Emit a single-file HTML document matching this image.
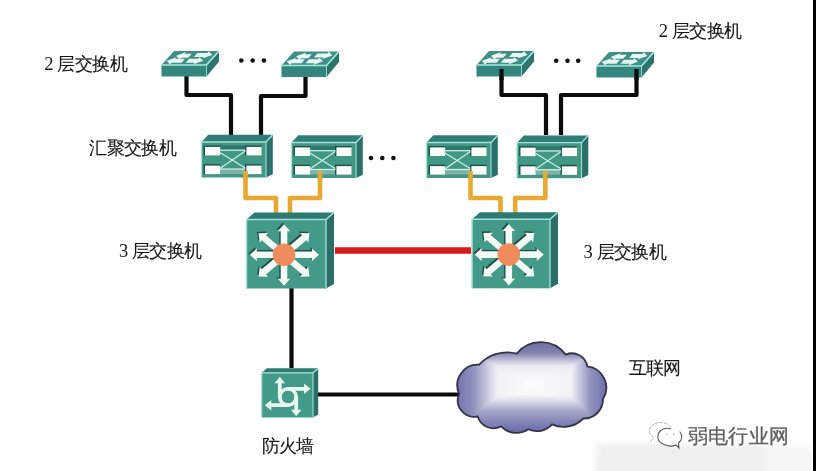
<!DOCTYPE html>
<html><head><meta charset="utf-8">
<style>
html,body{margin:0;padding:0;background:#fff;}
body{width:816px;height:471px;position:relative;overflow:hidden;font-family:"Liberation Sans",sans-serif;}
svg{position:absolute;left:0;top:0;}
.lb{position:absolute;color:#161616;line-height:1;white-space:pre;-webkit-text-stroke:0.1px #161616;}
.c{display:inline-block;text-align:center;overflow:visible;}
.d{font-family:"Liberation Serif",serif;font-size:18.5px;-webkit-text-stroke:0;}
.wm{position:absolute;left:688px;top:426.5px;font-size:19.5px;line-height:1;color:#606060;white-space:pre;-webkit-text-stroke:0.25px #606060;text-shadow:1px 1px 0 #fff,-0.5px -0.5px 0 #ddd;}
</style></head><body>
<svg width="816" height="471" viewBox="0 0 816 471"><defs>
<linearGradient id="ch" gradientUnits="userSpaceOnUse" x1="455" y1="0" x2="606" y2="0">
<stop offset="0" stop-color="#6e71ab"/><stop offset="0.12" stop-color="#8e90bc"/><stop offset="0.28" stop-color="#f1f1f6"/><stop offset="0.5" stop-color="#fbfbfd"/><stop offset="0.77" stop-color="#f1f1f6"/><stop offset="0.9" stop-color="#8e90bc"/><stop offset="1" stop-color="#6e71ab"/>
</linearGradient>
<linearGradient id="cv" gradientUnits="userSpaceOnUse" x1="0" y1="341" x2="0" y2="431">
<stop offset="0" stop-color="#6e6f9f"/><stop offset="0.13" stop-color="#7f81ae"/><stop offset="0.27" stop-color="#e9e9f1"/><stop offset="0.45" stop-color="#fdfdfe"/><stop offset="0.6" stop-color="#f8f8fb"/><stop offset="0.78" stop-color="#a4a5c9"/><stop offset="1" stop-color="#6a6caa"/>
</linearGradient>
<filter id="blur2" x="-10%" y="-50%" width="120%" height="200%"><feGaussianBlur stdDeviation="3"/></filter>
</defs><g filter="url(#blur2)"><rect x="596" y="444" width="168" height="40" fill="#efefef"/><rect x="764" y="446" width="49" height="40" fill="#f5f5f5"/></g><g fill="none" stroke="#0b0b0b" stroke-width="4.2" stroke-linejoin="round"><polyline points="186.5,76 186.5,95 231,95 231,135"/><polyline points="305.5,77 305.5,96 261,96 261,135"/><polyline points="501.5,69 501.5,95 546,95 546,135"/><polyline points="636.5,69 636.5,95 561,95 561,135"/><line x1="291.5" y1="288" x2="291.5" y2="368"/><line x1="318" y1="394.5" x2="460" y2="394.5"/></g><g fill="none" stroke="#e8a933" stroke-width="4.6" stroke-linejoin="round"><polyline points="245.5,171 245.5,198 276,198 276,213"/><polyline points="320,171 320,198 290,198 290,213"/><polyline points="470.5,171 470.5,198 500.5,198 500.5,213"/><polyline points="545.3,171 545.3,198 515.2,198 515.2,213"/></g><line x1="335" y1="250.5" x2="471" y2="250.5" stroke="#d8191b" stroke-width="6.5"/><polygon points="161.5,65 174.0,51 219.0,51 206.5,65" fill="#3f8f87"/>
<polygon points="206.5,65 219.0,51 219.0,61.5 206.5,76.5" fill="#2d746d"/>
<rect x="161.5" y="65" width="45" height="11.5" fill="#34877f"/>
<rect x="161.5" y="68" width="45" height="1" fill="#2e7a73" opacity="0.35"/>
<rect x="161.5" y="72" width="45" height="1" fill="#2e7a73" opacity="0.35"/>
<polyline points="161.5,65 206.5,65 219.0,51" fill="none" stroke="#a8e8de" stroke-width="1.7"/>
<line x1="206.5" y1="65" x2="206.5" y2="76.5" stroke="#8fd6cc" stroke-width="1"/>
<polygon points="188.2,57.7 181.1,57.7 179.6,59.4 176.1,55.8 186.1,52.1 184.6,53.8 191.8,53.8" fill="#e8f6f3"/>
<polygon points="193.9,56.9 203.8,56.9 202.3,58.6 212.3,54.9 208.8,51.3 207.3,53.0 197.4,53.0" fill="#e8f6f3"/>
<polygon points="181.5,62.8 171.6,62.8 170.1,64.4 166.6,60.8 176.6,57.2 175.1,58.8 185.0,58.8" fill="#e8f6f3"/>
<polygon points="185.6,62.8 194.6,62.8 193.1,64.4 203.1,60.8 199.6,57.2 198.1,58.8 189.1,58.8" fill="#e8f6f3"/><polygon points="281.5,65.5 294.0,51.5 339.0,51.5 326.5,65.5" fill="#3f8f87"/>
<polygon points="326.5,65.5 339.0,51.5 339.0,62.0 326.5,77.0" fill="#2d746d"/>
<rect x="281.5" y="65.5" width="45" height="11.5" fill="#34877f"/>
<rect x="281.5" y="68.5" width="45" height="1" fill="#2e7a73" opacity="0.35"/>
<rect x="281.5" y="72.5" width="45" height="1" fill="#2e7a73" opacity="0.35"/>
<polyline points="281.5,65.5 326.5,65.5 339.0,51.5" fill="none" stroke="#a8e8de" stroke-width="1.7"/>
<line x1="326.5" y1="65.5" x2="326.5" y2="77.0" stroke="#8fd6cc" stroke-width="1"/>
<polygon points="308.2,58.2 301.1,58.2 299.6,59.9 296.1,56.3 306.1,52.6 304.6,54.3 311.8,54.3" fill="#e8f6f3"/>
<polygon points="313.9,57.4 323.9,57.4 322.4,59.1 332.4,55.4 328.9,51.8 327.4,53.5 317.4,53.5" fill="#e8f6f3"/>
<polygon points="301.5,63.3 291.6,63.3 290.1,64.9 286.6,61.3 296.6,57.7 295.1,59.3 305.0,59.3" fill="#e8f6f3"/>
<polygon points="305.6,63.3 314.6,63.3 313.1,64.9 323.1,61.3 319.6,57.7 318.1,59.3 309.1,59.3" fill="#e8f6f3"/><polygon points="476.5,65 489.0,51 534.0,51 521.5,65" fill="#3f8f87"/>
<polygon points="521.5,65 534.0,51 534.0,61.5 521.5,76.5" fill="#2d746d"/>
<rect x="476.5" y="65" width="45" height="11.5" fill="#34877f"/>
<rect x="476.5" y="68" width="45" height="1" fill="#2e7a73" opacity="0.35"/>
<rect x="476.5" y="72" width="45" height="1" fill="#2e7a73" opacity="0.35"/>
<polyline points="476.5,65 521.5,65 534.0,51" fill="none" stroke="#a8e8de" stroke-width="1.7"/>
<line x1="521.5" y1="65" x2="521.5" y2="76.5" stroke="#8fd6cc" stroke-width="1"/>
<polygon points="503.2,57.7 496.1,57.7 494.6,59.4 491.1,55.8 501.1,52.1 499.6,53.8 506.8,53.8" fill="#e8f6f3"/>
<polygon points="508.9,56.9 518.9,56.9 517.4,58.6 527.4,54.9 523.9,51.3 522.4,53.0 512.5,53.0" fill="#e8f6f3"/>
<polygon points="496.5,62.8 486.6,62.8 485.1,64.4 481.6,60.8 491.6,57.2 490.1,58.8 500.0,58.8" fill="#e8f6f3"/>
<polygon points="500.6,62.8 509.6,62.8 508.1,64.4 518.0,60.8 514.6,57.2 513.0,58.8 504.1,58.8" fill="#e8f6f3"/><polygon points="596.5,66 609.0,52 654.0,52 641.5,66" fill="#3f8f87"/>
<polygon points="641.5,66 654.0,52 654.0,62.5 641.5,77.5" fill="#2d746d"/>
<rect x="596.5" y="66" width="45" height="11.5" fill="#34877f"/>
<rect x="596.5" y="69" width="45" height="1" fill="#2e7a73" opacity="0.35"/>
<rect x="596.5" y="73" width="45" height="1" fill="#2e7a73" opacity="0.35"/>
<polyline points="596.5,66 641.5,66 654.0,52" fill="none" stroke="#a8e8de" stroke-width="1.7"/>
<line x1="641.5" y1="66" x2="641.5" y2="77.5" stroke="#8fd6cc" stroke-width="1"/>
<polygon points="623.2,58.7 616.0,58.7 614.5,60.4 611.0,56.8 621.0,53.1 619.5,54.8 626.8,54.8" fill="#e8f6f3"/>
<polygon points="629.0,57.9 638.9,57.9 637.4,59.6 647.4,55.9 643.9,52.3 642.4,54.0 632.5,54.0" fill="#e8f6f3"/>
<polygon points="616.5,63.8 606.6,63.8 605.1,65.4 601.6,61.8 611.6,58.2 610.1,59.8 620.0,59.8" fill="#e8f6f3"/>
<polygon points="620.5,63.8 629.5,63.8 628.0,65.4 638.0,61.8 634.5,58.2 633.0,59.8 624.0,59.8" fill="#e8f6f3"/><g fill="none" stroke="#0b0b0b" stroke-width="4.2"><line x1="501.5" y1="69" x2="501.5" y2="80"/><line x1="636.5" y1="69" x2="636.5" y2="80"/></g><polygon points="201.5,142 208.3,134.7 272.8,134.7 266.0,142" fill="#2f7d75"/>
<polygon points="266.0,142 272.8,134.7 272.8,174.2 266.0,177.5" fill="#2b6f69"/>
<rect x="201.5" y="142" width="64.5" height="35.5" fill="#409784"/>
<polyline points="201.5,177.5 201.5,142 266.0,142 272.8,134.7" fill="none" stroke="#a5e3d9" stroke-width="1.3"/>
<line x1="266.0" y1="142" x2="266.0" y2="177.5" stroke="#9adbd0" stroke-width="1.2"/>
<rect x="219.9" y="145.6" width="25.4" height="4.6" fill="#2e776f"/>
<rect x="219.9" y="169" width="25.4" height="5" fill="#7fb2ab"/>
<rect x="203.6" y="145.5" width="16.6" height="10" fill="#1f4f4a"/>
<rect x="205.0" y="146.9" width="15.2" height="8.6" fill="#fbfdfd"/>
<rect x="245.0" y="145.5" width="16.6" height="10" fill="#1f4f4a"/>
<rect x="246.4" y="146.9" width="15.2" height="8.6" fill="#fbfdfd"/>
<rect x="203.6" y="164.2" width="16.6" height="10" fill="#1f4f4a"/>
<rect x="205.0" y="165.6" width="15.2" height="8.6" fill="#fbfdfd"/>
<rect x="245.0" y="164.2" width="16.6" height="10" fill="#1f4f4a"/>
<rect x="246.4" y="165.6" width="15.2" height="8.6" fill="#fbfdfd"/>
<g stroke="#c9efe9" stroke-width="1.3"><line x1="219.9" y1="150.2" x2="245.3" y2="150.2"/><line x1="219.9" y1="169" x2="245.3" y2="169"/><line x1="219.9" y1="152.5" x2="245.3" y2="168"/><line x1="245.3" y1="151" x2="219.9" y2="168.5"/></g><polygon points="291.5,142.5 298.3,135.2 362.8,135.2 356.0,142.5" fill="#2f7d75"/>
<polygon points="356.0,142.5 362.8,135.2 362.8,174.7 356.0,178.0" fill="#2b6f69"/>
<rect x="291.5" y="142.5" width="64.5" height="35.5" fill="#409784"/>
<polyline points="291.5,178.0 291.5,142.5 356.0,142.5 362.8,135.2" fill="none" stroke="#a5e3d9" stroke-width="1.3"/>
<line x1="356.0" y1="142.5" x2="356.0" y2="178.0" stroke="#9adbd0" stroke-width="1.2"/>
<rect x="309.9" y="146.1" width="25.4" height="4.6" fill="#2e776f"/>
<rect x="309.9" y="169.5" width="25.4" height="5" fill="#7fb2ab"/>
<rect x="293.59999999999997" y="146.0" width="16.6" height="10" fill="#1f4f4a"/>
<rect x="295.0" y="147.4" width="15.2" height="8.6" fill="#fbfdfd"/>
<rect x="335.0" y="146.0" width="16.6" height="10" fill="#1f4f4a"/>
<rect x="336.40000000000003" y="147.4" width="15.2" height="8.6" fill="#fbfdfd"/>
<rect x="293.59999999999997" y="164.7" width="16.6" height="10" fill="#1f4f4a"/>
<rect x="295.0" y="166.1" width="15.2" height="8.6" fill="#fbfdfd"/>
<rect x="335.0" y="164.7" width="16.6" height="10" fill="#1f4f4a"/>
<rect x="336.40000000000003" y="166.1" width="15.2" height="8.6" fill="#fbfdfd"/>
<g stroke="#c9efe9" stroke-width="1.3"><line x1="309.9" y1="150.7" x2="335.3" y2="150.7"/><line x1="309.9" y1="169.5" x2="335.3" y2="169.5"/><line x1="309.9" y1="153.0" x2="335.3" y2="168.5"/><line x1="335.3" y1="151.5" x2="309.9" y2="169.0"/></g><polygon points="426.5,142.5 433.3,135.2 497.8,135.2 491.0,142.5" fill="#2f7d75"/>
<polygon points="491.0,142.5 497.8,135.2 497.8,174.7 491.0,178.0" fill="#2b6f69"/>
<rect x="426.5" y="142.5" width="64.5" height="35.5" fill="#409784"/>
<polyline points="426.5,178.0 426.5,142.5 491.0,142.5 497.8,135.2" fill="none" stroke="#a5e3d9" stroke-width="1.3"/>
<line x1="491.0" y1="142.5" x2="491.0" y2="178.0" stroke="#9adbd0" stroke-width="1.2"/>
<rect x="444.9" y="146.1" width="25.4" height="4.6" fill="#2e776f"/>
<rect x="444.9" y="169.5" width="25.4" height="5" fill="#7fb2ab"/>
<rect x="428.59999999999997" y="146.0" width="16.6" height="10" fill="#1f4f4a"/>
<rect x="430.0" y="147.4" width="15.2" height="8.6" fill="#fbfdfd"/>
<rect x="470.0" y="146.0" width="16.6" height="10" fill="#1f4f4a"/>
<rect x="471.40000000000003" y="147.4" width="15.2" height="8.6" fill="#fbfdfd"/>
<rect x="428.59999999999997" y="164.7" width="16.6" height="10" fill="#1f4f4a"/>
<rect x="430.0" y="166.1" width="15.2" height="8.6" fill="#fbfdfd"/>
<rect x="470.0" y="164.7" width="16.6" height="10" fill="#1f4f4a"/>
<rect x="471.40000000000003" y="166.1" width="15.2" height="8.6" fill="#fbfdfd"/>
<g stroke="#c9efe9" stroke-width="1.3"><line x1="444.9" y1="150.7" x2="470.3" y2="150.7"/><line x1="444.9" y1="169.5" x2="470.3" y2="169.5"/><line x1="444.9" y1="153.0" x2="470.3" y2="168.5"/><line x1="470.3" y1="151.5" x2="444.9" y2="169.0"/></g><polygon points="517,142.7 523.8,135.39999999999998 588.3,135.39999999999998 581.5,142.7" fill="#2f7d75"/>
<polygon points="581.5,142.7 588.3,135.39999999999998 588.3,174.89999999999998 581.5,178.2" fill="#2b6f69"/>
<rect x="517" y="142.7" width="64.5" height="35.5" fill="#409784"/>
<polyline points="517,178.2 517,142.7 581.5,142.7 588.3,135.39999999999998" fill="none" stroke="#a5e3d9" stroke-width="1.3"/>
<line x1="581.5" y1="142.7" x2="581.5" y2="178.2" stroke="#9adbd0" stroke-width="1.2"/>
<rect x="535.4" y="146.29999999999998" width="25.4" height="4.6" fill="#2e776f"/>
<rect x="535.4" y="169.7" width="25.4" height="5" fill="#7fb2ab"/>
<rect x="519.1" y="146.2" width="16.6" height="10" fill="#1f4f4a"/>
<rect x="520.5" y="147.6" width="15.2" height="8.6" fill="#fbfdfd"/>
<rect x="560.5" y="146.2" width="16.6" height="10" fill="#1f4f4a"/>
<rect x="561.9" y="147.6" width="15.2" height="8.6" fill="#fbfdfd"/>
<rect x="519.1" y="164.89999999999998" width="16.6" height="10" fill="#1f4f4a"/>
<rect x="520.5" y="166.29999999999998" width="15.2" height="8.6" fill="#fbfdfd"/>
<rect x="560.5" y="164.89999999999998" width="16.6" height="10" fill="#1f4f4a"/>
<rect x="561.9" y="166.29999999999998" width="15.2" height="8.6" fill="#fbfdfd"/>
<g stroke="#c9efe9" stroke-width="1.3"><line x1="535.4" y1="150.89999999999998" x2="560.8" y2="150.89999999999998"/><line x1="535.4" y1="169.7" x2="560.8" y2="169.7"/><line x1="535.4" y1="153.2" x2="560.8" y2="168.7"/><line x1="560.8" y1="151.7" x2="535.4" y2="169.2"/></g><g fill="none" stroke="#e8a933" stroke-width="4.6"><line x1="245.5" y1="171" x2="245.5" y2="180"/><line x1="320" y1="171" x2="320" y2="180"/><line x1="470.5" y1="171" x2="470.5" y2="180"/><line x1="545.3" y1="171" x2="545.3" y2="180"/></g><polygon points="246.5,219.5 254.5,212.5 334.0,212.5 326.0,219.5" fill="#2c7a72"/>
<polygon points="326.0,219.5 334.0,212.5 334.0,284.0 326.0,288.5" fill="#2a6e68"/>
<rect x="246.5" y="219.5" width="79.5" height="69" fill="#449a89"/>
<polyline points="246.5,288.5 246.5,219.5 326.0,219.5 334.0,212.5" fill="none" stroke="#a3e2d6" stroke-width="1.5"/>
<line x1="326.0" y1="219.5" x2="326.0" y2="288.5" stroke="#97d9cd" stroke-width="1.5"/>
<g fill="#1f4f49"><polygon points="284.00,251.50 312.00,251.50 312.00,248.50 319.00,254.80 312.00,261.10 312.00,258.10 284.00,258.10" transform="translate(-1.4,-1.4)"/><polygon points="286.13,252.28 306.29,269.36 308.23,267.07 309.50,276.40 300.09,276.68 302.03,274.39 281.87,257.32" transform="translate(-1.4,-1.4)"/><polygon points="287.30,254.80 287.30,278.80 290.30,278.80 284.00,285.80 277.70,278.80 280.70,278.80 280.70,254.80" transform="translate(-1.4,-1.4)"/><polygon points="286.13,257.32 265.97,274.39 267.91,276.68 258.50,276.40 259.77,267.07 261.71,269.36 281.87,252.28" transform="translate(-1.4,-1.4)"/><polygon points="284.00,258.10 256.80,258.10 256.80,261.10 249.80,254.80 256.80,248.50 256.80,251.50 284.00,251.50" transform="translate(-1.4,-1.4)"/><polygon points="281.87,257.32 261.71,240.24 259.77,242.53 258.50,233.20 267.91,232.92 265.97,235.21 286.13,252.28" transform="translate(-1.4,-1.4)"/><polygon points="280.70,254.80 280.70,231.20 277.70,231.20 284.00,224.20 290.30,231.20 287.30,231.20 287.30,254.80" transform="translate(-1.4,-1.4)"/><polygon points="281.87,252.28 302.03,235.21 300.09,232.92 309.50,233.20 308.23,242.53 306.29,240.24 286.13,257.32" transform="translate(-1.4,-1.4)"/></g>
<g fill="#f3faf8"><polygon points="284.00,251.50 312.00,251.50 312.00,248.50 319.00,254.80 312.00,261.10 312.00,258.10 284.00,258.10"/><polygon points="286.13,252.28 306.29,269.36 308.23,267.07 309.50,276.40 300.09,276.68 302.03,274.39 281.87,257.32"/><polygon points="287.30,254.80 287.30,278.80 290.30,278.80 284.00,285.80 277.70,278.80 280.70,278.80 280.70,254.80"/><polygon points="286.13,257.32 265.97,274.39 267.91,276.68 258.50,276.40 259.77,267.07 261.71,269.36 281.87,252.28"/><polygon points="284.00,258.10 256.80,258.10 256.80,261.10 249.80,254.80 256.80,248.50 256.80,251.50 284.00,251.50"/><polygon points="281.87,257.32 261.71,240.24 259.77,242.53 258.50,233.20 267.91,232.92 265.97,235.21 286.13,252.28"/><polygon points="280.70,254.80 280.70,231.20 277.70,231.20 284.00,224.20 290.30,231.20 287.30,231.20 287.30,254.80"/><polygon points="281.87,252.28 302.03,235.21 300.09,232.92 309.50,233.20 308.23,242.53 306.29,240.24 286.13,257.32"/></g>
<circle cx="284.0" cy="254.8" r="11.3" fill="#f08c5c"/><polygon points="472,219.3 480,212.3 558,212.3 550,219.3" fill="#2c7a72"/>
<polygon points="550,219.3 558,212.3 558,283.8 550,288.3" fill="#2a6e68"/>
<rect x="472" y="219.3" width="78" height="69" fill="#449a89"/>
<polyline points="472,288.3 472,219.3 550,219.3 558,212.3" fill="none" stroke="#a3e2d6" stroke-width="1.5"/>
<line x1="550" y1="219.3" x2="550" y2="288.3" stroke="#97d9cd" stroke-width="1.5"/>
<g fill="#1f4f49"><polygon points="508.79,251.30 536.79,251.30 536.79,248.30 543.79,254.60 536.79,260.90 536.79,257.90 508.79,257.90" transform="translate(-1.4,-1.4)"/><polygon points="510.93,252.08 531.08,269.16 533.02,266.87 534.29,276.20 524.88,276.48 526.82,274.19 506.66,257.12" transform="translate(-1.4,-1.4)"/><polygon points="512.09,254.60 512.09,278.60 515.09,278.60 508.79,285.60 502.49,278.60 505.49,278.60 505.49,254.60" transform="translate(-1.4,-1.4)"/><polygon points="510.93,257.12 490.77,274.19 492.71,276.48 483.29,276.20 484.56,266.87 486.50,269.16 506.66,252.08" transform="translate(-1.4,-1.4)"/><polygon points="508.79,257.90 481.59,257.90 481.59,260.90 474.59,254.60 481.59,248.30 481.59,251.30 508.79,251.30" transform="translate(-1.4,-1.4)"/><polygon points="506.66,257.12 486.50,240.04 484.56,242.33 483.29,233.00 492.71,232.72 490.77,235.01 510.93,252.08" transform="translate(-1.4,-1.4)"/><polygon points="505.49,254.60 505.49,231.00 502.49,231.00 508.79,224.00 515.09,231.00 512.09,231.00 512.09,254.60" transform="translate(-1.4,-1.4)"/><polygon points="506.66,252.08 526.82,235.01 524.88,232.72 534.29,233.00 533.02,242.33 531.08,240.04 510.93,257.12" transform="translate(-1.4,-1.4)"/></g>
<g fill="#f3faf8"><polygon points="508.79,251.30 536.79,251.30 536.79,248.30 543.79,254.60 536.79,260.90 536.79,257.90 508.79,257.90"/><polygon points="510.93,252.08 531.08,269.16 533.02,266.87 534.29,276.20 524.88,276.48 526.82,274.19 506.66,257.12"/><polygon points="512.09,254.60 512.09,278.60 515.09,278.60 508.79,285.60 502.49,278.60 505.49,278.60 505.49,254.60"/><polygon points="510.93,257.12 490.77,274.19 492.71,276.48 483.29,276.20 484.56,266.87 486.50,269.16 506.66,252.08"/><polygon points="508.79,257.90 481.59,257.90 481.59,260.90 474.59,254.60 481.59,248.30 481.59,251.30 508.79,251.30"/><polygon points="506.66,257.12 486.50,240.04 484.56,242.33 483.29,233.00 492.71,232.72 490.77,235.01 510.93,252.08"/><polygon points="505.49,254.60 505.49,231.00 502.49,231.00 508.79,224.00 515.09,231.00 512.09,231.00 512.09,254.60"/><polygon points="506.66,252.08 526.82,235.01 524.88,232.72 534.29,233.00 533.02,242.33 531.08,240.04 510.93,257.12"/></g>
<circle cx="508.79245283018867" cy="254.60000000000002" r="11.3" fill="#f08c5c"/><polygon points="261.7,372.8 266.9,368.2 318.2,368.2 313.0,372.8" fill="#2c7a72"/>
<polygon points="313.0,372.8 318.2,368.2 318.2,414.5 313.0,417.5" fill="#2a6e68"/>
<rect x="261.7" y="372.8" width="51.3" height="44.7" fill="#449a89"/>
<polyline points="261.7,417.5 261.7,372.8 313.0,372.8 318.2,368.2" fill="none" stroke="#a3e2d6" stroke-width="1.3"/>
<line x1="313.0" y1="372.8" x2="313.0" y2="417.5" stroke="#97d9cd" stroke-width="1.2"/>
<g fill="#e9f7f4"><circle cx="288" cy="397" r="8.2" fill="none" stroke="#e9f7f4" stroke-width="3.6"/><polygon points="281.70,398.00 281.70,383.30 285.10,383.30 279.80,376.80 274.50,383.30 277.90,383.30 277.90,398.00"/><polygon points="287.00,390.70 304.00,390.70 304.00,394.10 310.50,388.80 304.00,383.50 304.00,386.90 287.00,386.90"/><polygon points="294.30,396.00 294.30,409.70 290.90,409.70 296.20,416.20 301.50,409.70 298.10,409.70 298.10,396.00"/><polygon points="289.00,403.30 271.30,403.30 271.30,399.90 264.80,405.20 271.30,410.50 271.30,407.10 289.00,407.10"/></g><path d="M459.2,393.7 A20.51,20.51 0 0 1 479.2,364.7 A37.51,37.51 0 0 1 516.7,353.6 A31.02,31.02 0 0 1 565.7,354.6 A15.62,15.62 0 0 1 587.3,366.4 A21.37,21.37 0 0 1 603,399 A19.01,19.01 0 0 1 583.3,418.5 A27.86,27.86 0 0 1 552,424.4 A20.16,20.16 0 0 1 528.4,429.3 A21.48,21.48 0 0 1 501,426.4 A16.26,16.26 0 0 1 477.8,416.5 A16.53,16.53 0 0 1 459.2,393.7Z" fill="url(#ch)"/><path d="M459.2,393.7 A20.51,20.51 0 0 1 479.2,364.7 A37.51,37.51 0 0 1 516.7,353.6 A31.02,31.02 0 0 1 565.7,354.6 A15.62,15.62 0 0 1 587.3,366.4 A21.37,21.37 0 0 1 603,399 A19.01,19.01 0 0 1 583.3,418.5 A27.86,27.86 0 0 1 552,424.4 A20.16,20.16 0 0 1 528.4,429.3 A21.48,21.48 0 0 1 501,426.4 A16.26,16.26 0 0 1 477.8,416.5 A16.53,16.53 0 0 1 459.2,393.7Z" fill="url(#cv)" style="mix-blend-mode:darken"/><path d="M459.2,393.7 A20.51,20.51 0 0 1 479.2,364.7 A37.51,37.51 0 0 1 516.7,353.6 A31.02,31.02 0 0 1 565.7,354.6 A15.62,15.62 0 0 1 587.3,366.4 A21.37,21.37 0 0 1 603,399 A19.01,19.01 0 0 1 583.3,418.5 A27.86,27.86 0 0 1 552,424.4 A20.16,20.16 0 0 1 528.4,429.3 A21.48,21.48 0 0 1 501,426.4 A16.26,16.26 0 0 1 477.8,416.5 A16.53,16.53 0 0 1 459.2,393.7Z" fill="none" stroke="#34344a" stroke-width="1.8"/><circle cx="241.3" cy="60.5" r="2.3" fill="#111"/><circle cx="252.7" cy="60.5" r="2.3" fill="#111"/><circle cx="263.9" cy="60.5" r="2.3" fill="#111"/><circle cx="556.2" cy="60.8" r="2.3" fill="#111"/><circle cx="567.5" cy="60.8" r="2.3" fill="#111"/><circle cx="578.2" cy="60.8" r="2.3" fill="#111"/><circle cx="371" cy="158" r="2.3" fill="#111"/><circle cx="382.3" cy="158" r="2.3" fill="#111"/><circle cx="393.4" cy="158" r="2.3" fill="#111"/><g fill="none" stroke-linecap="round"><path d="M651,441 L653.5,437.5 A11,8.5 0 1 1 671,428.5" stroke="#b0b0b0" stroke-width="1" stroke-dasharray="2.5 2"/><path d="M670.5,428.8 A9.3,8.2 0 0 0 664,444.5 Q671,447.5 676,445 L679,448 L678.5,443 A9.3,8.2 0 0 0 680,432" stroke="#5a5a5a" stroke-width="1.1"/><circle cx="666.7" cy="434.2" r="1" fill="#c8c8c8" stroke="none"/><circle cx="673.9" cy="434.2" r="1" fill="#c8c8c8" stroke="none"/></g><rect x="813" y="0" width="3" height="471" fill="#000"/></svg>
<div class="lb" style="left:44.3px;top:55px;font-size:17.8px"><span class="c d" style="width:8.6px">2</span><span class="c" style="width:4.6px"> </span><span class="c" style="width:17.4px">层</span><span class="c" style="width:17.4px">交</span><span class="c" style="width:17.4px">换</span><span class="c" style="width:17.4px">机</span></div><div class="lb" style="left:658.8px;top:21.5px;font-size:17.8px"><span class="c d" style="width:8.6px">2</span><span class="c" style="width:4.6px"> </span><span class="c" style="width:17.4px">层</span><span class="c" style="width:17.4px">交</span><span class="c" style="width:17.4px">换</span><span class="c" style="width:17.4px">机</span></div><div class="lb" style="left:89.2px;top:139.5px;font-size:17.8px"><span class="c" style="width:17.4px">汇</span><span class="c" style="width:17.4px">聚</span><span class="c" style="width:17.4px">交</span><span class="c" style="width:17.4px">换</span><span class="c" style="width:17.4px">机</span></div><div class="lb" style="left:118.9px;top:242px;font-size:17.8px"><span class="c d" style="width:8.6px">3</span><span class="c" style="width:4.6px"> </span><span class="c" style="width:17.4px">层</span><span class="c" style="width:17.4px">交</span><span class="c" style="width:17.4px">换</span><span class="c" style="width:17.4px">机</span></div><div class="lb" style="left:583.5px;top:242.5px;font-size:17.8px"><span class="c d" style="width:8.6px">3</span><span class="c" style="width:4.6px"> </span><span class="c" style="width:17.4px">层</span><span class="c" style="width:17.4px">交</span><span class="c" style="width:17.4px">换</span><span class="c" style="width:17.4px">机</span></div><div class="lb" style="left:261.5px;top:438px;font-size:17.8px"><span class="c" style="width:17.4px">防</span><span class="c" style="width:17.4px">火</span><span class="c" style="width:17.4px">墙</span></div><div class="lb" style="left:628.5px;top:360.2px;font-size:17.8px"><span class="c" style="width:17.4px">互</span><span class="c" style="width:17.4px">联</span><span class="c" style="width:17.4px">网</span></div>
<div class="wm"><span class="c" style="width:20.2px">弱</span><span class="c" style="width:20.2px">电</span><span class="c" style="width:20.2px">行</span><span class="c" style="width:20.2px">业</span><span class="c" style="width:20.2px">网</span></div>
</body></html>
